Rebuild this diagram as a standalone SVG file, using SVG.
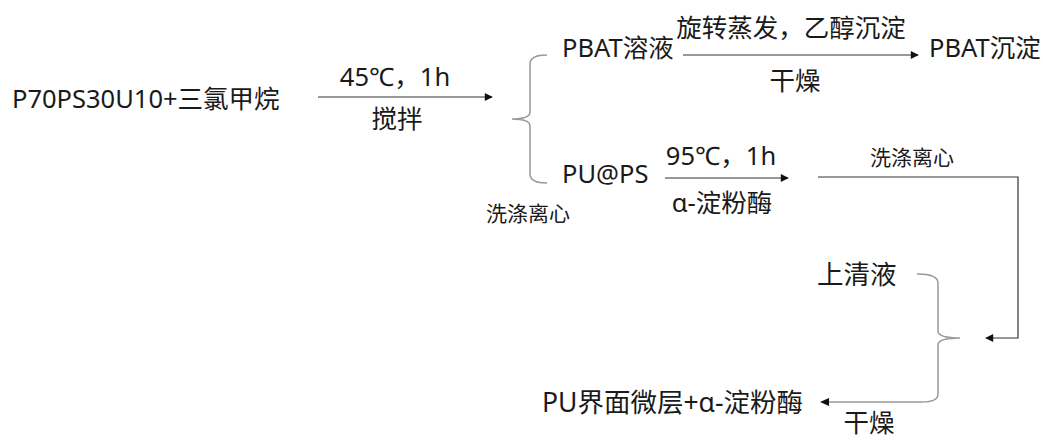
<svg xmlns="http://www.w3.org/2000/svg" width="1043" height="441" viewBox="0 0 1043 441">
<defs>
<style>
text{font-family:"Noto Sans","Noto Sans CJK SC",sans-serif;fill:#1a1a1a}
.l{font-size:25.5px}
.m{font-size:26.5px}
.s{font-size:21px}
.a{fill:none;stroke:#333;stroke-width:1.2}
.b{fill:none;stroke:#999;stroke-width:1.5}
</style>
<marker id="ah" viewBox="0 0 10 10" refX="9" refY="5" markerWidth="9" markerHeight="8" markerUnits="userSpaceOnUse" orient="auto">
<path d="M0,0 L10,5 L0,10 z" fill="#111"/>
</marker>
</defs>
<g id="n-start"><text class="l" x="12" y="108">P70PS30U10+三氯甲烷</text></g>
<g id="n-pbat"><text class="l" x="562" y="57">PBAT溶液</text></g>
<g id="n-pbat-precip"><text class="l" x="929" y="57">PBAT沉淀</text></g>
<g id="n-pups"><text class="l" x="562" y="183">PU@PS</text></g>
<g id="n-super"><text class="m" x="817" y="284">上清液</text></g>
<g id="n-final"><text class="m" x="542" y="412">PU界面微层+α-淀粉酶</text></g>
<g id="labels">
<text class="l" x="395" y="86" text-anchor="middle">45℃，1h</text>
<text class="l" x="397" y="128" text-anchor="middle">搅拌</text>
<text class="l" x="791" y="37" text-anchor="middle">旋转蒸发，乙醇沉淀</text>
<text class="l" x="795" y="90" text-anchor="middle">干燥</text>
<text class="l" x="721" y="165" text-anchor="middle">95℃，1h</text>
<text class="l" x="722" y="212" text-anchor="middle">α-淀粉酶</text>
<text class="s" x="912" y="165" text-anchor="middle">洗涤离心</text>
<text class="s" x="528" y="221" text-anchor="middle">洗涤离心</text>
<text class="l" x="869" y="432" text-anchor="middle">干燥</text>
</g>
<g id="connectors">
<line class="a" x1="318" y1="97" x2="492" y2="97" marker-end="url(#ah)"/>
<line class="a" x1="683" y1="55" x2="918" y2="55" marker-end="url(#ah)"/>
<line class="a" x1="665" y1="178" x2="788" y2="178" marker-end="url(#ah)"/>
<polyline class="a" points="818,177 1018,177 1018,338 986,338" marker-end="url(#ah)"/>
<path class="b" d="M547,55 Q530,55 530,64 L530,112 Q530,119 512,119 Q530,119 530,126 L530,174 Q530,183 547,183"/>
<path class="b" d="M917,274 Q938,274 938,283 L938,331 Q938,338 960,338 Q938,338 938,345 L938,394 Q938,402 922,402 L826,402"/>
<path d="M820,402 L829,398 L829,406 z" fill="#111"/>
</g>
</svg>
